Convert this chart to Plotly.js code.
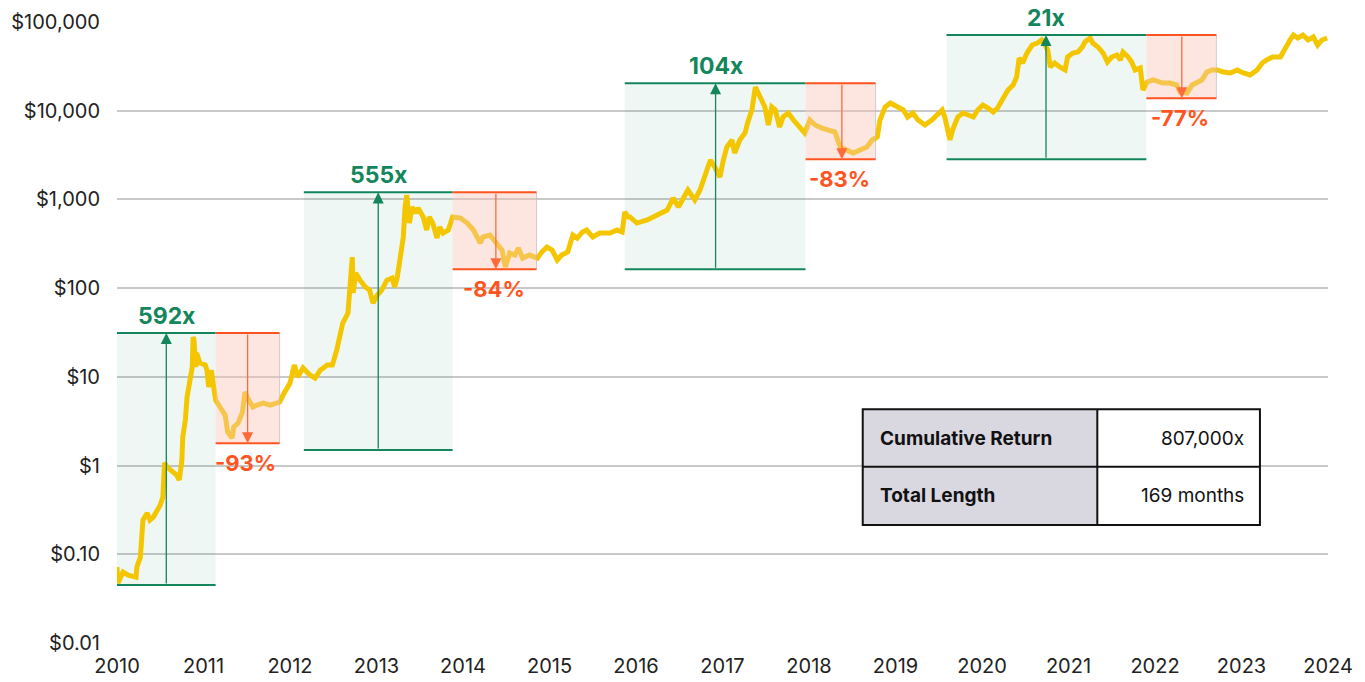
<!DOCTYPE html>
<html>
<head>
<meta charset="utf-8">
<script src="https://cdn.plot.ly/plotly-3.0.1.min.js"></script>
<style>html,body{margin:0;padding:0;background:#fff;}#chart{width:1365px;height:682px;}</style>
</head>
<body>
<div id="chart"></div>
<script>
// Price series (decimal year, USD)
const years = [2010.00,2010.01,2010.07,2010.13,2010.22,2010.23,2010.27,2010.29,2010.30,2010.35,2010.38,2010.42,2010.46,2010.50,2010.53,2010.55,2010.58,2010.64,2010.69,2010.72,2010.75,2010.76,2010.79,2010.81,2010.83,2010.87,2010.88,2010.89,2010.91,2010.92,2010.96,2011.02,2011.04,2011.06,2011.09,2011.11,2011.14,2011.19,2011.25,2011.28,2011.33,2011.35,2011.40,2011.45,2011.48,2011.51,2011.57,2011.62,2011.69,2011.77,2011.85,2011.88,2011.92,2012.00,
2012.05,2012.09,2012.15,2012.23,2012.29,2012.35,2012.43,2012.49,2012.54,2012.61,2012.67,2012.69,2012.72,2012.73,2012.76,2012.81,2012.87,2012.92,2012.96,2013.01,2013.06,2013.12,2013.18,2013.21,2013.24,2013.27,2013.31,2013.33,2013.35,2013.38,2013.41,2013.45,2013.48,2013.54,2013.58,2013.61,2013.65,2013.70,2013.73,2013.77,2013.83,2013.88,2013.97,2014.05,2014.12,2014.20,2014.23,2014.31,2014.37,2014.45,2014.49,2014.54,2014.60,2014.64,2014.69,2014.77,2014.86,2014.91,2014.97,2015.03,2015.09,2015.14,2015.21,2015.27,2015.32,2015.38,2015.43,2015.50,2015.58,2015.70,2015.78,2015.84,2015.87,2015.91,
2015.93,2016.01,2016.13,2016.24,2016.36,2016.43,2016.49,2016.60,2016.68,2016.74,2016.80,2016.86,2016.91,2016.97,2017.01,2017.05,2017.11,2017.14,2017.20,2017.26,2017.29,2017.34,2017.38,2017.41,2017.46,2017.49,2017.53,2017.57,2017.61,2017.66,2017.70,2017.76,2017.82,2017.90,2017.95,2018.01,2018.07,2018.15,2018.24,2018.30,2018.36,2018.44,2018.51,2018.59,2018.67,2018.73,2018.79,2018.82,2018.88,2018.94,2019.02,2019.09,2019.14,2019.20,2019.26,2019.34,2019.42,2019.48,2019.54,2019.57,2019.61,
2019.63,2019.66,2019.72,2019.78,2019.84,2019.90,2019.95,2020.01,2020.07,2020.13,2020.18,2020.24,2020.30,2020.36,2020.40,2020.43,2020.47,2020.52,2020.58,2020.64,2020.69,2020.73,2020.76,2020.79,2020.84,2020.90,2020.96,2020.99,2021.05,2021.11,2021.16,2021.19,2021.25,2021.28,2021.34,2021.40,2021.45,2021.50,2021.56,2021.60,2021.63,2021.69,2021.73,2021.77,2021.83,2021.86,2021.91,2021.98,2022.06,2022.09,2022.17,2022.25,2022.29,2022.37,2022.43,2022.49,2022.54,2022.60,2022.66,2022.72,2022.79,2022.87,2022.95,2023.02,2023.10,2023.18,2023.24,2023.29,2023.36,2023.45,2023.50,2023.56,2023.60,2023.65,2023.71,2023.77,2023.83,2023.88,2023.93,2023.99];
const prices = [0.0718,0.0473,0.063,0.0583,0.0553,0.0718,0.0929,0.156,0.243,0.292,0.243,0.263,0.299,0.359,0.442,1.07,0.962,0.845,0.782,0.687,1.15,2.09,3.26,5.92,7.67,12.9,28.1,26.0,12.9,18.5,14.3,13.6,11.9,7.67,11.9,9.2,5.47,4.57,3.71,2.39,2.04,2.72,3.01,4.01,6.74,5.77,4.57,4.81,5.07,4.81,5.07,5.2,6.24,8.51,
13.6,9.95,12.6,10.5,9.69,11.9,13.6,13.6,20.0,40.4,52.4,88.1,224,88.1,148,123,103,95.2,67.9,83.6,95.2,123,130,103,133,207,377,820,1122,542,820,703,800,634,452,634,542,367,489,418,452,634,617,542,452,322,377,397,331,269,173,249,236,283,218,236,218,255,290,269,207,236,255,397,367,429,452,377,418,418,452,429,721,634,
634,542,586,667,759,1037,820,1277,985,1277,1985,2781,2317,1789,2781,3897,4677,3334,4677,5607,7265,10190,18500,15850,13200,11000,6900,11000,10190,6550,8490,9420,7850,6380,5607,7850,6900,6380,6060,5750,3897,3605,3334,3605,3897,4677,5055,7850,11000,12200,11000,10190,8490,9420,7850,6900,7850,8950,10190,8490,5055,
4677,6060,8490,9420,8950,8490,10190,11600,10720,9670,10720,13200,17100,19500,24000,39300,34500,44700,55000,58000,62700,55000,48300,31100,34500,31100,28800,40300,44700,45900,52300,59500,66000,58000,52300,44700,35400,40300,42500,37300,45900,40300,35400,28800,30300,17100,21100,22200,21100,20500,20500,19500,16300,15850,19500,21100,22200,27300,28800,28800,27300,26600,28800,26600,25300,28800,34500,37300,40300,40300,50900,62700,71300,66000,71300,62700,67800,55000,62700,66000];

// Bull-run boxes (green) and drawdown boxes (red)
const bullStart = [2010.00, 2012.16, 2015.87, 2019.59];
const bullEnd   = [2011.14, 2013.88, 2017.96, 2021.90];
const bullLow   = [0.045, 1.50, 163, 2830];
const bullHigh  = [31.2, 1202, 20400, 71300];
const bullArrowX = [2010.57, 2013.02, 2016.92, 2020.74];
const bullLabels = ['592x', '555x', '104x', '21x'];

const bearEnd   = [2011.88, 2014.85, 2018.77, 2022.71];
const bearLow   = [1.78, 163, 2830, 13800];
const bearArrowX = [2011.51, 2014.38, 2018.38, 2022.31];
const bearLabels = ['-93%', '-84%', '-83%', '-77%'];

// Axis ticks
const yTickVals = [0.01, 0.1, 1, 10, 100, 1000, 10000, 100000];
const yTickText = ['$0.01', '$0.10', '$1', '$10', '$100', '$1,000', '$10,000', '$100,000'];
const xTickVals = [2010,2011,2012,2013,2014,2015,2016,2017,2018,2019,2020,2021,2022,2023,2024];

// Summary table
const tableLabels = ['Cumulative Return', 'Total Length'];
const tableValues = ['807,000x', '169 months'];

const FONT = 'Inter, "Noto Sans", sans-serif';
const GREEN = '#13865b';
const RED = '#ff5420';

const shapes = [];
const annotations = [];

for (let i = 0; i < bullStart.length; i++) {
  shapes.push({type:'rect', xref:'x', yref:'y', x0:bullStart[i], x1:bullEnd[i], y0:bullLow[i], y1:bullHigh[i],
    fillcolor:'rgba(30,140,100,0.07)', line:{width:0}, layer:'between'});
  shapes.push({type:'rect', xref:'x', yref:'y', x0:bullEnd[i], x1:bearEnd[i], y0:bearLow[i], y1:bullHigh[i],
    fillcolor:'rgba(250,196,180,0.42)', line:{width:0}, layer:'above'});
  shapes.push({type:'line', xref:'x', yref:'y', x0:bearEnd[i], x1:bearEnd[i], y0:bearLow[i], y1:bullHigh[i],
    line:{color:'rgba(190,190,190,0.7)', width:1}, layer:'above'});
  shapes.push({type:'line', xref:'x', yref:'y', x0:bullStart[i], x1:bullEnd[i], y0:bullHigh[i], y1:bullHigh[i],
    line:{color:GREEN, width:2}, layer:'above'});
  shapes.push({type:'line', xref:'x', yref:'y', x0:bullStart[i], x1:bullEnd[i], y0:bullLow[i], y1:bullLow[i],
    line:{color:GREEN, width:2}, layer:'above'});
  shapes.push({type:'line', xref:'x', yref:'y', x0:bullEnd[i], x1:bearEnd[i], y0:bullHigh[i], y1:bullHigh[i],
    line:{color:RED, width:2}, layer:'above'});
  shapes.push({type:'line', xref:'x', yref:'y', x0:bullEnd[i], x1:bearEnd[i], y0:bearLow[i], y1:bearLow[i],
    line:{color:RED, width:2}, layer:'above'});

  annotations.push({xref:'x', yref:'y', axref:'x', ayref:'y', x:bullArrowX[i], y:Math.log10(bullHigh[i]),
    ax:bullArrowX[i], ay:Math.log10(bullLow[i]), text:'', showarrow:true, arrowhead:2, arrowsize:1.7,
    arrowwidth:1.3, arrowcolor:GREEN, standoff:0, startstandoff:0});
  annotations.push({xref:'x', yref:'y', axref:'x', ayref:'y', x:bearArrowX[i], y:Math.log10(bearLow[i]),
    ax:bearArrowX[i], ay:Math.log10(bullHigh[i]), text:'', showarrow:true, arrowhead:2, arrowsize:1.7,
    arrowwidth:1.3, arrowcolor:'#ff6a3a', standoff:0, startstandoff:0});
  annotations.push({xref:'x', yref:'y', x:bullArrowX[i], y:Math.log10(bullHigh[i]), yanchor:'bottom', xanchor:'center',
    yshift:1, showarrow:false, text:'<b>'+bullLabels[i]+'</b>', font:{family:FONT, size:23, color:GREEN}});
  annotations.push({xref:'x', yref:'y', x:bearArrowX[i], y:Math.log10(bearLow[i]), yanchor:'top', xanchor:'center',
    yshift:-5, xshift:-2, showarrow:false, text:'<b>'+bearLabels[i]+'</b>', font:{family:FONT, size:22, color:RED}});
}

// Table (paper coordinates)
const tx0 = 0.6158, txm = 0.8095, tx1 = 0.9438;
const ty0 = 0.3763, tym = 0.2839, ty1 = 0.1900;
shapes.push({type:'rect', xref:'paper', yref:'paper', x0:tx0, x1:txm, y0:ty1, y1:ty0, fillcolor:'#d9d8e1', line:{width:0}, layer:'above'});
shapes.push({type:'rect', xref:'paper', yref:'paper', x0:txm, x1:tx1, y0:ty1, y1:ty0, fillcolor:'#ffffff', line:{width:0}, layer:'above'});
shapes.push({type:'rect', xref:'paper', yref:'paper', x0:tx0, x1:tx1, y0:ty1, y1:ty0, fillcolor:'rgba(0,0,0,0)', line:{color:'#111', width:2}, layer:'above'});
shapes.push({type:'line', xref:'paper', yref:'paper', x0:txm, x1:txm, y0:ty1, y1:ty0, line:{color:'#111', width:2}, layer:'above'});
shapes.push({type:'line', xref:'paper', yref:'paper', x0:tx0, x1:tx1, y0:tym, y1:tym, line:{color:'#111', width:2}, layer:'above'});
const rowMid = [(ty0+tym)/2, (tym+ty1)/2];
for (let r = 0; r < tableLabels.length; r++) {
  annotations.push({xref:'paper', yref:'paper', x:tx0, xshift:15, y:rowMid[r], xanchor:'left', yanchor:'middle',
    showarrow:false, text:'<b>'+tableLabels[r]+'</b>', font:{family:FONT, size:19, color:'#111'}});
  annotations.push({xref:'paper', yref:'paper', x:tx1, xshift:-14, y:rowMid[r], xanchor:'right', yanchor:'middle',
    showarrow:false, text:tableValues[r], font:{family:FONT, size:19, color:'#111'}});
}

const trace = {
  x: years, y: prices, type:'scatter', mode:'lines',
  line:{color:'#f3c600', width:5}, hoverinfo:'skip'
};

const layout = {
  width:1365, height:682,
  margin:{l:117, r:37, t:22, b:39},
  paper_bgcolor:'#fff', plot_bgcolor:'#fff',
  showlegend:false,
  font:{family:FONT, color:'#222'},
  xaxis:{range:[2010,2024], tickvals:xTickVals, ticktext:xTickVals.map(String), showgrid:false, zeroline:false,
    showline:false, ticks:'', tickfont:{family:FONT, size:20, color:'#222'}, ticklabelstandoff:9},
  yaxis:{type:'log', range:[-2,5], tickvals:yTickVals, ticktext:yTickText, showgrid:true, gridcolor:'#c9c9c9',
    gridwidth:2, zeroline:false, showline:false, ticks:'', tickfont:{family:FONT, size:20, color:'#222'}, ticklabelstandoff:16},
  shapes: shapes,
  annotations: annotations
};

Plotly.newPlot('chart', [trace], layout, {staticPlot:true, displayModeBar:false});
</script>
</body>
</html>
